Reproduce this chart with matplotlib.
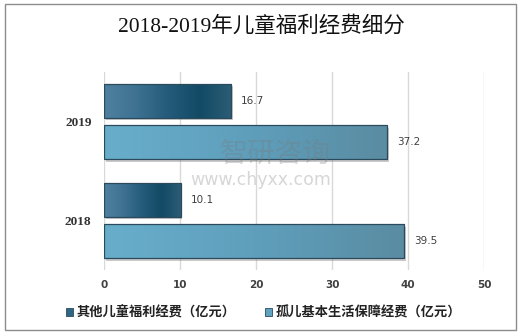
import matplotlib
matplotlib.use('Agg')
import matplotlib.pyplot as plt
import numpy as np
from matplotlib.colors import LinearSegmentedColormap
from matplotlib.patches import Rectangle, Patch
import matplotlib.patheffects as pe

years = ['2018', '2019']
other = [10.1, 16.7]
orphan = [39.5, 37.2]
series_names = ['其他儿童福利经费（亿元）', '孤儿基本生活保障经费（亿元）']
xticks = [0, 10, 20, 30, 40, 50]
title = '2018-2019年儿童福利经费细分'

CJK = ['Noto Sans CJK SC', 'DejaVu Sans']

fig = plt.figure(figsize=(5.22, 3.34), dpi=100)
ax = fig.add_axes([104/522, 1-270/334, (484.3-104)/522, 198/334])

y = np.arange(len(years))
h = 0.34
off = 0.21
shadow = [pe.SimplePatchShadow(offset=(1.2, -1.8), shadow_rgbFace='#8a8a8a', alpha=0.45), pe.Normal()]
b1 = ax.barh(y + off, other, height=h, color='#2f6684', linewidth=0, zorder=3, path_effects=shadow)
b2 = ax.barh(y - off, orphan, height=h, color='#60a3c0', linewidth=0, zorder=3, path_effects=shadow)

cm1 = LinearSegmentedColormap.from_list('c1', ['#4f809f', '#3f7292', '#245b7a', '#124a65', '#2c5d75'])
cm2 = LinearSegmentedColormap.from_list('c2', ['#68aecb', '#5f9fbc', '#5a8ca2'])
grad = np.linspace(0, 1, 256).reshape(1, -1)
for bars, cm in ((b1, cm1), (b2, cm2)):
    for bar in bars:
        x0, y0 = bar.get_xy()
        w, hh = bar.get_width(), bar.get_height()
        im = ax.imshow(grad, cmap=cm, extent=(x0, x0 + w, y0, y0 + hh), aspect='auto', zorder=4, origin='lower')
        im.set_clip_path(bar)
        ax.add_patch(Rectangle((x0, y0), w, hh, fill=False, ec='#2b4b5d', lw=0.9, zorder=5))

ax.bar_label(b1, fmt='%.1f', padding=7, fontsize=7.5, color='#404040')
ax.bar_label(b2, fmt='%.1f', padding=7, fontsize=7.5, color='#404040')

ax.set_xlim(0, 50)
ax.set_ylim(-0.5, 1.5)
ax.set_xticks(xticks)
ax.set_xticklabels([str(t) for t in xticks], fontsize=7.5, fontweight='bold', color='#404040')
ax.set_yticks(y)
ax.set_yticklabels(years, fontsize=9.5, fontweight='bold', color='#333333', family='Liberation Serif')
ax.tick_params(axis='both', length=0)
ax.tick_params(axis='x', pad=7)
ax.tick_params(axis='y', pad=9)
ax.grid(axis='x', color='#d9d9d9', lw=1)
ax.set_axisbelow(True)
for s in ax.spines.values():
    s.set_visible(False)

fig.text(0.5, 1 - 26/334, title, ha='center', va='center', fontsize=15.5,
         family=['Liberation Serif', 'Noto Sans CJK SC'], color='#111111')

# watermark
fig.text(275/522, 1 - 154/334, '智研咨询', ha='center', va='center', fontsize=20,
         family=CJK, color='#7a7a7a', alpha=0.3)
fig.text(261/522, 1 - 180/334, 'www.chyxx.com', ha='center', va='center', fontsize=12.5,
         family='DejaVu Sans', color='#7a7a7a', alpha=0.3)

handles = [Patch(fc='#2f6684', ec='#2b4b5d', lw=0.6), Patch(fc='#60a3c0', ec='#2b4b5d', lw=0.6)]
fig.legend(handles, series_names, loc='center', bbox_to_anchor=(0.505, 1 - 313/334), ncol=2,
           frameon=False, handlelength=0.55, handleheight=0.55, handletextpad=0.3, columnspacing=2.2,
           prop={'family': CJK, 'size': 9.5, 'weight': 'bold'}, labelcolor='#222222')

fig.patches.append(Rectangle((5/522, 4/334), 511/522, 326/334, transform=fig.transFigure,
                             fill=False, ec='#8c8c8c', lw=1))

fig.savefig('out.png', dpi=100)
